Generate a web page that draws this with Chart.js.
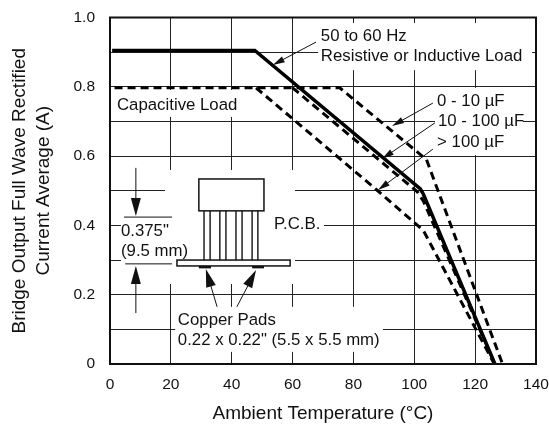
<!DOCTYPE html>
<html>
<head>
<meta charset="utf-8">
<style>
html,body{margin:0;padding:0;background:#fff}
canvas{display:block}
</style>
<script src="https://cdn.jsdelivr.net/npm/chart.js@4/dist/chart.umd.min.js"></script>
</head>
<body>
<canvas id="c" width="549" height="425"></canvas>
<script>
const xTicks=[0,20,40,60,80,100,120,140];
const yTickLabels=["0","0.2","0.4","0.6","0.8","1.0"];

// resistive or inductive load
const resistiveX=[0.7,47.6,102,103,126.5];
const resistiveY=[0.905,0.905,0.505,0.49,0];
// capacitive load, 0 - 10 uF
const cap10X=[1.5,75.5,104,107.8,129];
const cap10Y=[0.797,0.797,0.59,0.5,0];
// capacitive load, 10 - 100 uF
const cap100X=[60,101,103,126.5];
const cap100Y=[0.797,0.497,0.47,0];
// capacitive load, > 100 uF
const capOverX=[48,88,103,126.3];
const capOverY=[0.797,0.5,0.385,0];

const toPoints=(xs,ys)=>xs.map((x,i)=>({x,y:ys[i]}));

// white boxes that break the grid behind the notes: x0,y0,x1,y1 in axis units
const gaps=[
  [68.4,0.984,138.7,0.848],
  [1,0.791,42.7,0.713],
  [18.1,0.56,60.8,0.231],
  [3.6,0.421,18.1,0.294],
  [60.8,0.43,70.3,0.372],
  [21.4,0.165,89.7,0.035],
  [106.8,0.797,135.7,0.603]
];
const notes=[
  ["50 to 60 Hz",69.3,0.932],
  ["Resistive or Inductive Load",69.3,0.874],
  ["Capacitive Load",2.3,0.733],
  ["0 - 10 µF",107.5,0.745],
  ["10 - 100 µF",107.8,0.687],
  ["> 100 µF",107.5,0.626],
  ["P.C.B.",53.9,0.39],
  ["0.375\"",3.6,0.369],
  ["(9.5 mm)",3.6,0.312],
  ["Copper Pads",22.3,0.113],
  ["0.22 x 0.22\" (5.5 x 5.5 mm)",22.3,0.055]
];
const thinArrows=[
  [67.7,0.929,53.5,0.863],
  [106.1,0.753,92.7,0.687],
  [106.8,0.696,89.4,0.592],
  [106.1,0.62,88.1,0.502]
];
const bigArrows=[
  [35.2,0.165,31.5,0.274],
  [41.7,0.165,48,0.271],
  [8.5,0.566,8.5,0.427],
  [8.5,0.147,8.5,0.283]
];
const leads=[30.9,32.9,36.1,38.1,41.4,43.4,46.7,48.6];
const dimLines=[[4.6,20.4,0.424],[5,20.4,0.289]];

function arrow(ctx,x0,y0,x1,y1,len,wide,lw){
  const a=Math.atan2(y1-y0,x1-x0);
  ctx.lineWidth=lw;
  ctx.beginPath();ctx.moveTo(x0,y0);ctx.lineTo(x1-Math.cos(a)*len*0.8,y1-Math.sin(a)*len*0.8);ctx.stroke();
  ctx.beginPath();
  ctx.moveTo(x1,y1);
  ctx.lineTo(x1-Math.cos(a)*len-Math.sin(a)*wide,y1-Math.sin(a)*len+Math.cos(a)*wide);
  ctx.lineTo(x1-Math.cos(a)*len+Math.sin(a)*wide,y1-Math.sin(a)*len-Math.cos(a)*wide);
  ctx.closePath();ctx.fill();
}

const sketch={
  id:"sketch",
  beforeDatasetsDraw(chart){
    const {ctx,scales:{x,y}}=chart;
    const X=v=>x.getPixelForValue(v),Y=v=>y.getPixelForValue(v);
    ctx.save();
    ctx.fillStyle="#fff";
    gaps.forEach(g=>ctx.fillRect(X(g[0]),Y(g[1]),X(g[2])-X(g[0]),Y(g[3])-Y(g[1])));
    ctx.restore();
  },
  afterDatasetsDraw(chart){
    const {ctx,chartArea:a,scales:{x,y}}=chart;
    const X=v=>x.getPixelForValue(v),Y=v=>y.getPixelForValue(v);
    ctx.save();
    ctx.strokeStyle="#111";ctx.fillStyle="#111";
    // frame
    ctx.lineWidth=2;
    ctx.strokeRect(a.left,a.top,a.right-a.left,a.bottom-a.top);
    // bridge package on the board
    ctx.lineWidth=1.5;
    ctx.strokeRect(X(29.2),Y(0.534),X(50.6)-X(29.2),Y(0.442)-Y(0.534));
    ctx.lineWidth=1.4;
    leads.forEach(l=>{ctx.beginPath();ctx.moveTo(X(l),Y(0.442));ctx.lineTo(X(l),Y(0.3));ctx.stroke()});
    ctx.lineWidth=1.5;
    ctx.strokeRect(X(22),Y(0.3),X(59.2)-X(22),Y(0.283)-Y(0.3));
    ctx.fillRect(X(29.2),Y(0.283),X(33.2)-X(29.2),Y(0.276)-Y(0.283));
    ctx.fillRect(X(46.7),Y(0.283),X(50.6)-X(46.7),Y(0.276)-Y(0.283));
    ctx.lineWidth=1;
    dimLines.forEach(d=>{ctx.beginPath();ctx.moveTo(X(d[0]),Y(d[2]));ctx.lineTo(X(d[1]),Y(d[2]));ctx.stroke()});
    thinArrows.forEach(l=>arrow(ctx,X(l[0]),Y(l[1]),X(l[2]),Y(l[3]),12,3.2,1));
    bigArrows.forEach(l=>arrow(ctx,X(l[0]),Y(l[1]),X(l[2]),Y(l[3]),18,5,1));
    // notes
    ctx.font="16.8px 'Liberation Sans'";
    ctx.textBaseline="alphabetic";
    notes.forEach(n=>ctx.fillText(n[0],X(n[1]),Y(n[2])));
    ctx.restore();
  }
};

const line=(xs,ys,dash,w)=>({
  data:toPoints(xs,ys),
  borderColor:"#000",
  borderWidth:w,
  borderDash:dash,
  pointRadius:0,
  tension:0,
  fill:false,
  borderCapStyle:"butt",
  borderJoinStyle:"miter"
});

new Chart(document.getElementById("c"),{
  type:"line",
  data:{datasets:[
    line(resistiveX,resistiveY,[],3.5),
    line(cap10X,cap10Y,[8,5],3),
    line(cap100X,cap100Y,[8,5],3),
    line(capOverX,capOverY,[8,5],3)
  ]},
  plugins:[sketch],
  options:{
    responsive:false,
    animation:false,
    devicePixelRatio:1,
    layout:{padding:{left:7,top:17.5,right:13,bottom:0}},
    plugins:{legend:{display:false},tooltip:{enabled:false}},
    scales:{
      x:{
        type:"linear",min:0,max:140,
        afterBuildTicks:s=>{s.ticks=xTicks.map(value=>({value}))},
        afterFit:s=>{s.height=61;s.paddingLeft=0;s.paddingRight=0},
        grid:{color:"#222",lineWidth:1,drawTicks:false},
        border:{display:false},
        ticks:{color:"#111",font:{family:"'Liberation Sans'",size:15.5},padding:11,maxRotation:0,autoSkip:false},
        title:{display:true,text:"Ambient Temperature (°C)",color:"#111",font:{family:"'Liberation Sans'",size:19},padding:{top:4,bottom:0}}
      },
      y:{
        min:0,max:1,
        afterFit:s=>{s.width=103;s.paddingTop=0;s.paddingBottom=0},
        grid:{color:"#222",lineWidth:1,drawTicks:false},
        border:{display:false},
        ticks:{stepSize:0.1,color:"#111",font:{family:"'Liberation Sans'",size:15.5},padding:15,autoSkip:false,
          callback:(v,i)=>i%2?"":yTickLabels[i/2]},
        title:{display:true,text:["Bridge Output Full Wave Rectified","Current Average (A)"],color:"#111",
          font:{family:"'Liberation Sans'",size:19,lineHeight:1.3},padding:{top:0,bottom:0}}
      }
    }
  }
});
</script>
</body>
</html>
